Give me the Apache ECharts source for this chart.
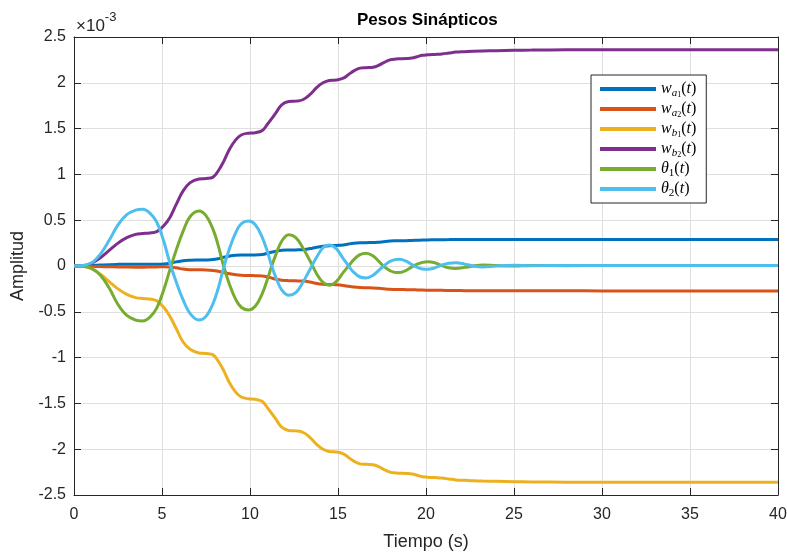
<!DOCTYPE html>
<html>
<head>
<meta charset="utf-8">
<script src="https://cdn.jsdelivr.net/npm/echarts@6/dist/echarts.min.js"></script>
<style>
  html, body { margin: 0; padding: 0; background: #fff; }
  #chart { width: 787px; height: 554px; }
</style>
</head>
<body>
<div id="chart"></div>
<script>
// Synaptic weights over time; amplitudes are expressed in units of 1e-3.
const time = [0, 0.5, 1, 1.5, 2, 2.5, 3, 3.5, 3.9, 4.3, 4.7, 5.1, 5.45, 5.8, 6.2, 6.6, 7.1, 7.5, 7.9, 8.2,
  8.5, 8.85, 9.2, 9.5, 9.9, 10.3, 10.7, 11.0, 11.2, 11.5, 11.8, 12.2, 12.6, 13.0, 13.4, 13.8, 14.15, 14.5, 14.9, 15.3,
  15.6, 15.9, 16.25, 16.6, 17.0, 17.3, 17.6, 17.95, 18.3, 18.5, 18.9, 19.2, 19.5, 19.8, 20.1, 20.5, 20.9, 21.3, 21.7, 22.2,
  22.7, 23.2, 24, 25, 26, 28, 30, 33, 36, 40];

const wa1 = [0, 0, 0.005, 0.01, 0.015, 0.018, 0.02, 0.02, 0.02, 0.02, 0.02, 0.022, 0.03, 0.045, 0.058, 0.063, 0.065, 0.066, 0.07, 0.08,
  0.095, 0.11, 0.118, 0.12, 0.12, 0.12, 0.125, 0.14, 0.15, 0.162, 0.172, 0.175, 0.176, 0.178, 0.19, 0.205, 0.215, 0.222, 0.225, 0.23,
  0.24, 0.248, 0.253, 0.255, 0.256, 0.26, 0.266, 0.272, 0.275, 0.276, 0.277, 0.278, 0.281, 0.284, 0.285, 0.286, 0.287, 0.288, 0.29, 0.29,
  0.29, 0.29, 0.29, 0.29, 0.29, 0.29, 0.29, 0.29, 0.29, 0.29];

const wa2 = [0, 0, -0.003, -0.006, -0.008, -0.01, -0.012, -0.013, -0.013, -0.012, -0.01, -0.008, -0.01, -0.02, -0.033, -0.04, -0.042, -0.043, -0.048, -0.058,
  -0.07, -0.085, -0.095, -0.1, -0.104, -0.106, -0.11, -0.12, -0.13, -0.145, -0.155, -0.16, -0.162, -0.165, -0.175, -0.19, -0.198, -0.202, -0.205, -0.212,
  -0.222, -0.23, -0.236, -0.238, -0.24, -0.244, -0.249, -0.254, -0.256, -0.257, -0.258, -0.259, -0.261, -0.263, -0.264, -0.265, -0.266, -0.267, -0.268, -0.269,
  -0.27, -0.27, -0.27, -0.271, -0.271, -0.271, -0.272, -0.272, -0.272, -0.272];

const wb1 = [0, -0.002, -0.03, -0.09, -0.17, -0.25, -0.31, -0.345, -0.355, -0.36, -0.38, -0.45, -0.55, -0.68, -0.83, -0.91, -0.95, -0.955, -0.97, -1.04,
  -1.14, -1.28, -1.38, -1.43, -1.45, -1.455, -1.48, -1.55, -1.6, -1.68, -1.76, -1.795, -1.8, -1.815, -1.87, -1.95, -2.0, -2.025, -2.03, -2.05,
  -2.09, -2.13, -2.16, -2.165, -2.17, -2.19, -2.22, -2.25, -2.26, -2.262, -2.265, -2.27, -2.285, -2.3, -2.305, -2.31, -2.315, -2.325, -2.335, -2.34,
  -2.345, -2.348, -2.35, -2.355, -2.357, -2.36, -2.36, -2.36, -2.36, -2.36];

const wb2 = [0, 0.002, 0.03, 0.09, 0.17, 0.25, 0.31, 0.345, 0.355, 0.36, 0.375, 0.44, 0.53, 0.67, 0.82, 0.91, 0.95, 0.955, 0.97, 1.04,
  1.14, 1.28, 1.38, 1.43, 1.45, 1.455, 1.48, 1.55, 1.6, 1.68, 1.76, 1.795, 1.8, 1.815, 1.87, 1.95, 2.0, 2.025, 2.03, 2.05,
  2.09, 2.13, 2.16, 2.165, 2.17, 2.19, 2.22, 2.25, 2.26, 2.262, 2.265, 2.27, 2.285, 2.3, 2.305, 2.31, 2.315, 2.325, 2.335, 2.34,
  2.345, 2.348, 2.35, 2.355, 2.357, 2.36, 2.36, 2.36, 2.36, 2.36];

const theta1 = [0, -0.003, -0.025, -0.1, -0.24, -0.42, -0.54, -0.59, -0.6, -0.56, -0.46, -0.26, -0.04, 0.17, 0.38, 0.54, 0.6, 0.55, 0.4, 0.22,
  0, -0.21, -0.37, -0.45, -0.48, -0.44, -0.3, -0.14, -0.02, 0.14, 0.27, 0.34, 0.31, 0.2, 0.06, -0.09, -0.18, -0.21, -0.17, -0.07,
  0, 0.07, 0.125, 0.14, 0.11, 0.055, -0.005, -0.05, -0.072, -0.072, -0.045, -0.01, 0.02, 0.04, 0.047, 0.035, 0.005, -0.02, -0.026, -0.015,
  0, 0.012, 0.005, 0, 0.005, 0.004, 0.005, 0.005, 0.005, 0.005];

const theta2 = [0, 0.005, 0.035, 0.13, 0.28, 0.45, 0.56, 0.61, 0.62, 0.58, 0.48, 0.27, 0.03, -0.17, -0.37, -0.52, -0.59, -0.55, -0.41, -0.24,
  -0.02, 0.2, 0.37, 0.46, 0.49, 0.45, 0.31, 0.15, 0.02, -0.14, -0.26, -0.32, -0.29, -0.18, -0.04, 0.1, 0.2, 0.23, 0.19, 0.08,
  0, -0.07, -0.12, -0.13, -0.1, -0.05, 0, 0.05, 0.072, 0.073, 0.05, 0.015, -0.015, -0.032, -0.036, -0.02, 0.01, 0.03, 0.035, 0.02,
  0, -0.01, 0, 0.008, 0.004, 0.006, 0.005, 0.005, 0.005, 0.005];

const seriesNames = ['wa1', 'wa2', 'wb1', 'wb2', 'theta1', 'theta2'];
const seriesValues = [wa1, wa2, wb1, wb2, theta1, theta2];
const seriesColors = ['#0072BD', '#D95319', '#EDB120', '#7E2F8E', '#77AC30', '#4DBEEE'];

// Legend entries typeset as math: italic symbols, nested subscripts, upright digits and brackets.
const legendText = {
  wa1: '{i|w}{s|a}{ss|1}{r|(}{i|t}{r|)}',
  wa2: '{i|w}{s|a}{ss|2}{r|(}{i|t}{r|)}',
  wb1: '{i|w}{s|b}{ss|1}{r|(}{i|t}{r|)}',
  wb2: '{i|w}{s|b}{ss|2}{r|(}{i|t}{r|)}',
  theta1: '{i|θ}{sr|1}{r|(}{i|t}{r|)}',
  theta2: '{i|θ}{sr|2}{r|(}{i|t}{r|)}'
};

const axisColor = '#262626';
const gridColor = '#dfdfdf';
const uiFont = 'Liberation Sans';
const mathFont = 'Liberation Serif';

const chart = echarts.init(document.getElementById('chart'), null, { renderer: 'canvas' });

const xMain = {
  type: 'value', min: 0, max: 40, interval: 5,
  name: 'Tiempo (s)', nameLocation: 'middle', nameGap: 38,
  nameTextStyle: { fontFamily: uiFont, fontSize: 18, color: axisColor },
  axisLine: { show: true, onZero: false, lineStyle: { color: axisColor, width: 1 } },
  axisTick: { show: true, inside: true, length: 7, lineStyle: { color: axisColor } },
  axisLabel: { fontFamily: uiFont, fontSize: 16, color: axisColor, margin: 12 },
  splitLine: { show: true, lineStyle: { color: gridColor, width: 1 } }
};
const xTop = {
  type: 'value', min: 0, max: 40, interval: 5, position: 'top',
  axisLine: { show: true, onZero: false, lineStyle: { color: axisColor, width: 1 } },
  axisTick: { show: true, inside: true, length: 7, lineStyle: { color: axisColor } },
  axisLabel: { show: false }, splitLine: { show: false }
};
const yMain = {
  type: 'value', min: -2.5, max: 2.5, interval: 0.5,
  name: 'Amplitud', nameLocation: 'middle', nameGap: 43, nameRotate: 90,
  nameTextStyle: { fontFamily: uiFont, fontSize: 18, color: axisColor },
  axisLine: { show: true, onZero: false, lineStyle: { color: axisColor, width: 1 } },
  axisTick: { show: true, inside: true, length: 7, lineStyle: { color: axisColor } },
  axisLabel: { fontFamily: uiFont, fontSize: 16, color: axisColor, margin: 8 },
  splitLine: { show: true, lineStyle: { color: gridColor, width: 1 } }
};
const yRight = {
  type: 'value', min: -2.5, max: 2.5, interval: 0.5, position: 'right',
  axisLine: { show: true, onZero: false, lineStyle: { color: axisColor, width: 1 } },
  axisTick: { show: true, inside: true, length: 7, lineStyle: { color: axisColor } },
  axisLabel: { show: false }, splitLine: { show: false }
};

const option = {
  backgroundColor: '#ffffff',
  animation: false,
  title: {
    text: 'Pesos Sinápticos', left: 352, top: 7,
    textStyle: { fontFamily: uiFont, fontSize: 17, fontWeight: 'bold', color: '#000' }
  },
  grid: { left: 74, right: 9, top: 37, bottom: 59, containLabel: false, outerBoundsMode: 'none' },
  xAxis: [xMain, xTop],
  yAxis: [yMain, yRight],
  legend: {
    orient: 'vertical', left: 591, top: 75,
    padding: [4, 10, 4, 9], itemGap: 0,
    itemWidth: 56, itemHeight: 4, icon: 'rect',
    backgroundColor: '#ffffff', borderColor: axisColor, borderWidth: 1, borderRadius: 0,
    data: seriesNames,
    formatter: name => legendText[name],
    textStyle: {
      padding: [0, 0, 0, 0],
      lineHeight: 20,
      rich: {
        i: { fontFamily: mathFont, fontStyle: 'italic', fontSize: 16, color: '#000', lineHeight: 20 },
        r: { fontFamily: mathFont, fontSize: 16, color: '#000', lineHeight: 20 },
        s: { fontFamily: mathFont, fontStyle: 'italic', fontSize: 11, color: '#000', lineHeight: 13, verticalAlign: 'bottom' },
        ss: { fontFamily: mathFont, fontSize: 8, color: '#000', lineHeight: 7, verticalAlign: 'bottom' },
        sr: { fontFamily: mathFont, fontSize: 11, color: '#000', lineHeight: 13, verticalAlign: 'bottom' }
      }
    }
  },
  graphic: [{
    type: 'text', left: 76, top: 11,
    style: {
      text: '{m|×10}{e|-3}',
      rich: {
        m: { fontFamily: uiFont, fontSize: 17, fill: axisColor, lineHeight: 24, verticalAlign: 'bottom' },
        e: { fontFamily: uiFont, fontSize: 13, fill: axisColor, lineHeight: 18, verticalAlign: 'top' }
      }
    }
  }],
  series: seriesNames.map((name, k) => ({
    name: name,
    type: 'line',
    xAxisIndex: 0, yAxisIndex: 0,
    data: time.map((t, i) => [t, seriesValues[k][i]]),
    smooth: 0.4,
    showSymbol: false, symbol: 'none',
    lineStyle: { color: seriesColors[k], width: 3 },
    itemStyle: { color: seriesColors[k] },
    emphasis: { disabled: true }
  }))
};

chart.setOption(option);
</script>
</body>
</html>
